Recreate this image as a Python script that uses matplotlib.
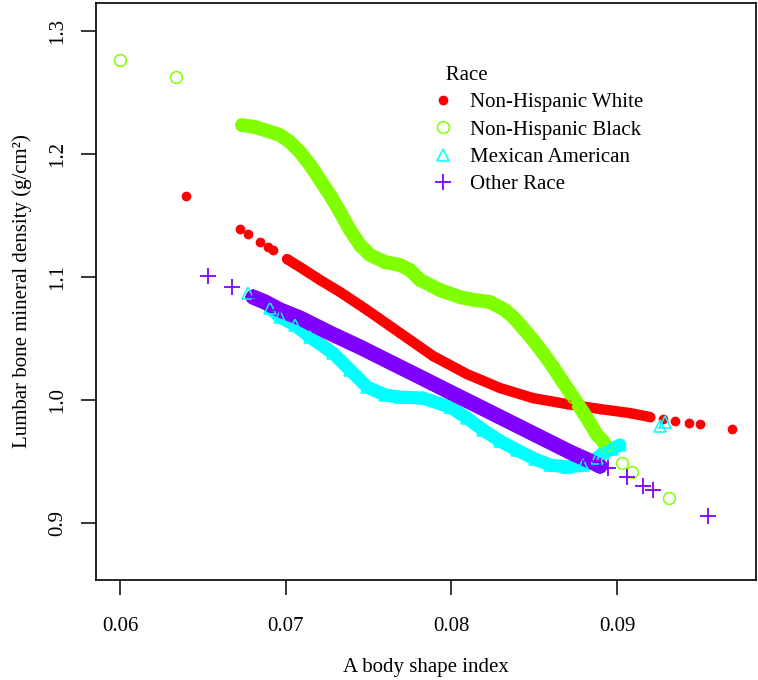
import matplotlib
matplotlib.use("Agg")
import matplotlib.pyplot as plt
from matplotlib.lines import Line2D

plt.rcParams["font.family"] = ["Liberation Serif", "DejaVu Serif"]

# %%
# Values (ABSI vs. lumbar BMD, by race).
# Each group: isolated points at the ends plus the dense fitted band.
white_x_sparse = [0.06398, 0.06724, 0.06772, 0.06845, 0.06893, 0.06923,
                  0.09277, 0.09349, 0.09434, 0.09500, 0.09693]
white_y_sparse = [1.1659, 1.1390, 1.1350, 1.1285, 1.1244, 1.1220,
                  0.9846, 0.9829, 0.9813, 0.9805, 0.9764]
white_x_band = [0.07008, 0.07086, 0.07207, 0.07328, 0.07491, 0.07690, 0.07889,
                0.08094, 0.08293, 0.08492, 0.08698, 0.08897, 0.09078, 0.09199]
white_y_band = [1.1146, 1.1081, 1.0976, 1.0878, 1.0732, 1.0545, 1.0358,
                1.0211, 1.0098, 1.0016, 0.9967, 0.9927, 0.9894, 0.9862]

black_x_sparse = [0.06000, 0.06338, 0.09030, 0.09090, 0.09313]
black_y_sparse = [1.2764, 1.2626, 0.9488, 0.9415, 0.9203]
black_x_band = [0.06736, 0.06815, 0.06875, 0.06966, 0.07026, 0.07086, 0.07147,
                0.07207, 0.07267, 0.07328, 0.07388, 0.07448, 0.07509, 0.07599,
                0.07690, 0.07750, 0.07811, 0.07931, 0.08052, 0.08142, 0.08233,
                0.08323, 0.08372, 0.08432, 0.08492, 0.08553, 0.08613, 0.08673,
                0.08734, 0.08794, 0.08836, 0.08879, 0.08909, 0.08933]
black_y_band = [1.2236, 1.2220, 1.2195, 1.2154, 1.2098, 1.2016, 1.1911,
                1.1789, 1.1667, 1.1528, 1.1382, 1.1260, 1.1179, 1.1122,
                1.1098, 1.1057, 1.0976, 1.0894, 1.0837, 1.0813, 1.0797,
                1.0732, 1.0675, 1.0585, 1.0488, 1.0382, 1.0268, 1.0146,
                1.0024, 0.9902, 0.9813, 0.9715, 0.9675, 0.9626]

mexican_x_sparse = [0.06772, 0.09259, 0.09289]
mexican_y_sparse = [1.0870, 0.9789, 0.9821]
mexican_x_band = [0.06905, 0.06966, 0.07056, 0.07147, 0.07285, 0.07388, 0.07491,
                  0.07599, 0.07690, 0.07829, 0.07991, 0.08094, 0.08191, 0.08293,
                  0.08396, 0.08504, 0.08595, 0.08698, 0.08794, 0.08879, 0.08915,
                  0.08969, 0.09017]
mexican_y_band = [1.0748, 1.0675, 1.0610, 1.0512, 1.0382, 1.0244, 1.0106,
                  1.0041, 1.0024, 1.0016, 0.9943, 0.9854, 0.9756, 0.9667,
                  0.9593, 0.9520, 0.9472, 0.9455, 0.9472, 0.9528, 0.9569,
                  0.9602, 0.9634]

other_x_sparse = [0.06531, 0.06676, 0.08945, 0.09060, 0.09156, 0.09217, 0.09549]
other_y_sparse = [1.1008, 1.0919, 0.9447, 0.9374, 0.9301, 0.9268, 0.9057]
other_x_band = [0.06803, 0.06875, 0.06966, 0.07086, 0.07267, 0.07448, 0.07629,
                0.07811, 0.07991, 0.08173, 0.08354, 0.08535, 0.08716, 0.08836,
                0.08897]
other_y_band = [1.0837, 1.0797, 1.0732, 1.0667, 1.0545, 1.0431, 1.0309,
                1.0187, 1.0065, 0.9943, 0.9821, 0.9699, 0.9577, 0.9504,
                0.9463]

race_labels = ["Non-Hispanic White", "Non-Hispanic Black",
               "Mexican American", "Other Race"]
x_ticks = [0.06, 0.07, 0.08, 0.09]
y_ticks = [0.9, 1.0, 1.1, 1.2, 1.3]

# %%
# R-style base plot: rainbow(4) colours, pch 19 / 1 / 2 / 3.
fig = plt.figure(figsize=(7.58, 6.80), dpi=100)
ax = fig.add_axes([96 / 758, 100 / 680, 660 / 758, 577 / 680])

groups = [
    (white_x_sparse, white_y_sparse, white_x_band, white_y_band,
     "#FF0000", "o", dict(markersize=6, markerfacecolor="#FF0000"), 7.5),
    (black_x_sparse, black_y_sparse, black_x_band, black_y_band,
     "#80FF00", "o", dict(markersize=8.5, markerfacecolor="none",
                          markeredgewidth=1.1), 10),
    (mexican_x_sparse, mexican_y_sparse, mexican_x_band, mexican_y_band,
     "#00FFFF", "^", dict(markersize=9, markerfacecolor="none",
                          markeredgewidth=1.1), 9.5),
    (other_x_sparse, other_y_sparse, other_x_band, other_y_band,
     "#8000FF", "+", dict(markersize=11, markeredgewidth=1.3), 11),
]

handles = []
for (xs, ys, xb, yb, color, marker, mkw, band_lw), label in zip(groups, race_labels):
    ax.plot(xb, yb, "-", color=color, lw=band_lw, solid_capstyle="round",
            zorder=2)
    ax.plot(xb, yb, linestyle="none", marker=marker, color=color,
            markeredgecolor=color, zorder=3, **mkw)
    ax.plot(xs, ys, linestyle="none", marker=marker, color=color,
            markeredgecolor=color, zorder=3, **mkw)
    handles.append(Line2D([], [], linestyle="none", marker=marker, color=color,
                          markeredgecolor=color, **mkw))

ax.set_xlim(0.05855, 0.09838)
ax.set_ylim(0.8537, 1.3228)
ax.set_xticks(x_ticks)
ax.set_xticklabels([f"{t:.2f}" for t in x_ticks])
ax.set_yticks(y_ticks)
ax.set_yticklabels([f"{t:.1f}" for t in y_ticks], rotation=90, va="center")
ax.tick_params(direction="out", length=10.5, width=1.1, labelsize=15)
ax.tick_params(axis="x", pad=16)
ax.tick_params(axis="y", pad=10)
for sp in ax.spines.values():
    sp.set_linewidth(1.2)

ax.set_xlabel("A body shape index", fontsize=15, labelpad=16)
ax.set_ylabel("Lumbar bone mineral density (g/cm²)", fontsize=15, labelpad=12)

leg = ax.legend(handles, race_labels, title="   Race", alignment="left",
                loc="upper left", bbox_to_anchor=(430 / 758, 1 - 66 / 680),
                bbox_transform=fig.transFigure, frameon=False, fontsize=15,
                title_fontsize=15, handlelength=1.2, handletextpad=0.7,
                labelspacing=0.37, borderpad=0, borderaxespad=0)

fig.savefig("out.png", dpi=100)
